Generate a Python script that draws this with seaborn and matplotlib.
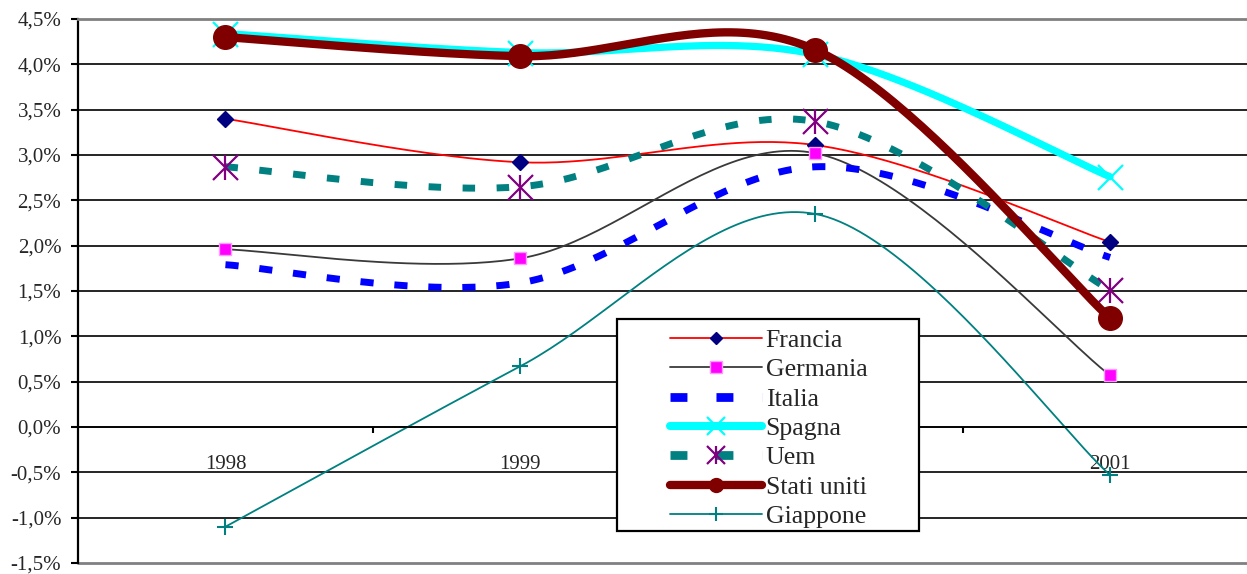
import numpy as np
import matplotlib
matplotlib.use("Agg")
import matplotlib.pyplot as plt
import seaborn as sns
from matplotlib.lines import Line2D
from matplotlib.patches import Rectangle
from matplotlib.ticker import FuncFormatter

# ---------------- data ----------------
years = ["1998", "1999", "2000", "2001"]
francia = [3.40, 2.92, 3.11, 2.04]
germania = [1.96, 1.86, 3.02, 0.57]
italia = [1.79, 1.59, 2.87, 1.87]
spagna = [4.34, 4.13, 4.11, 2.76]
uem = [2.87, 2.65, 3.37, 1.51]
stati_uniti = [4.30, 4.09, 4.16, 1.20]
giappone = [-1.10, 0.67, 2.35, -0.53]
series_names = ["Francia", "Germania", "Italia", "Spagna", "Uem", "Stati uniti", "Giappone"]
y_ticks = [-1.5, -1.0, -0.5, 0.0, 0.5, 1.0, 1.5, 2.0, 2.5, 3.0, 3.5, 4.0, 4.5]

sns.set_style("white")
plt.rcParams["font.family"] = ["Liberation Serif", "DejaVu Serif"]
plt.rcParams["lines.scale_dashes"] = False

W, H = 1247, 574
fig = plt.figure(figsize=(W / 100, H / 100), dpi=100)
ax = fig.add_axes([78 / W, (H - 563) / H, (W - 78) / W, 544 / H])

xpos = np.arange(len(years), dtype=float)


def excel_smooth(xs, ys, n=50):
    """Excel-style smoothed line (cubic Bezier, tension 1/6) through the points."""
    P = np.column_stack([xs, ys]).astype(float)
    k = len(P)
    t = np.linspace(0, 1, n)[:, None]
    out = []
    for i in range(k - 1):
        p0 = P[i - 1] if i > 0 else P[i]
        p1, p2 = P[i], P[i + 1]
        p3 = P[i + 2] if i + 2 < k else P[i + 1]
        c1 = p1 + (p2 - p0) / 6.0
        c2 = p2 - (p3 - p1) / 6.0
        seg = ((1 - t) ** 3) * p1 + 3 * ((1 - t) ** 2) * t * c1 + 3 * (1 - t) * t ** 2 * c2 + t ** 3 * p2
        if i > 0:
            seg = seg[1:]
        out.append(seg)
    return np.vstack(out)


def draw_line(vals, color, lw, dashes=None, capstyle="round"):
    sm = excel_smooth(xpos, vals)
    sns.lineplot(x=sm[:, 0], y=sm[:, 1], sort=False, estimator=None, ax=ax,
                 color=color, linewidth=lw, legend=False)
    ln = ax.lines[-1]
    if dashes is not None:
        ln.set_dashes(dashes)
        ln.set_dash_capstyle("butt")
    else:
        ln.set_solid_capstyle(capstyle)
        ln.set_solid_joinstyle("round")


def draw_markers(vals, marker, ms, mfc, mec, mew):
    sns.lineplot(x=xpos, y=vals, sort=False, estimator=None, ax=ax, linestyle="",
                 marker=marker, markersize=ms, markerfacecolor=mfc,
                 markeredgecolor=mec, markeredgewidth=mew, legend=False)


# Francia
draw_line(francia, "#FF0000", 1.3)
draw_markers(francia, "D", 8, "#000080", "#000080", 1)
# Germania
draw_line(germania, "#3A3A3A", 1.3)
draw_markers(germania, "s", 9, "#FF00FF", "#FF99FF", 1)
# Italia
draw_line(italia, "#0000FF", 5.0, dashes=(9.5, 15.0))
# Spagna
draw_line(spagna, "#00FFFF", 5.2)
draw_markers(spagna, "x", 18, "#00FFFF", "#00FFFF", 1.6)
# Uem
draw_line(uem, "#008080", 5.0, dashes=(9.0, 15.5))
draw_markers(uem, "x", 18, "#800080", "#800080", 1.6)
draw_markers(uem, "|", 18, "#800080", "#800080", 1.6)
# Stati uniti
draw_line(stati_uniti, "#800000", 6.0)
draw_markers(stati_uniti, "o", 17, "#800000", "#800000", 1)
# Giappone
draw_line(giappone, "#008080", 1.3)
draw_markers(giappone, "+", 11, "#008080", "#008080", 1.5)

# ---------------- axes ----------------
ax.set_ylim(-1.5, 4.5)
ax.set_xlim(-0.5, 3 + (W - 1110) / 295.0)

for v in y_ticks[1:-1]:
    ax.axhline(v, color="black", lw=1.2, zorder=0.8)
ax.axhline(-1.5, color="#808080", lw=2.0, zorder=0.8, clip_on=False)

ax.set_yticks(y_ticks)
ax.yaxis.set_major_formatter(FuncFormatter(lambda v, p: f"{v:.1f}%".replace(".", ",")))
ax.tick_params(axis="y", direction="out", length=5, width=1.5, pad=7,
               labelsize=15, left=True, color="black")

ax.set_xticks(xpos)
ax.set_xticklabels(years)
ax.set_xticks([0.5, 1.5, 2.5], minor=True)
ax.tick_params(axis="x", which="major", length=0, pad=20, labelsize=15)
ax.tick_params(axis="x", which="minor", direction="out", length=4.5, width=1.5,
               bottom=True, color="black")
# the 2000 label sits behind the legend box in the original
ax.get_xticklabels()[2].set_visible(False)

ax.spines["bottom"].set_position(("data", 0))
ax.spines["bottom"].set_color("black")
ax.spines["bottom"].set_linewidth(1.2)
ax.spines["left"].set_color("black")
ax.spines["left"].set_linewidth(1.6)
ax.spines["top"].set_color("#808080")
ax.spines["top"].set_linewidth(2.0)
ax.spines["right"].set_visible(False)
ax.set_xlabel("")
ax.set_ylabel("")

# ---------------- legend ----------------
x0 = (617 - 78) / (W - 78)
x1 = (919 - 78) / (W - 78)
y0 = (563 - 531) / 544
y1 = (563 - 319) / 544
ax.add_patch(Rectangle((x0, y0), x1 - x0, y1 - y0, transform=ax.transAxes,
                       facecolor="white", edgecolor="black", lw=1.6, zorder=4.5))

leg_dash = (12.2, 20.9)
uem_line = Line2D([], [], color="#008080", lw=6.3, dashes=leg_dash, dash_capstyle="butt")
handles = [
    Line2D([], [], color="#FF0000", lw=1.3, marker="D", ms=6.5, mfc="#000080", mec="#000080"),
    Line2D([], [], color="#3A3A3A", lw=1.3, marker="s", ms=8, mfc="#FF00FF", mec="#FF99FF"),
    Line2D([], [], color="#0000FF", lw=6.3, dashes=leg_dash, dash_capstyle="butt"),
    Line2D([], [], color="#00FFFF", lw=5.8, marker="x", ms=13.5, mew=1.6, mec="#00FFFF",
           solid_capstyle="round"),
    (uem_line,
     Line2D([], [], ls="", marker="x", ms=13.5, mew=1.6, mec="#800080"),
     Line2D([], [], ls="", marker="|", ms=13.5, mew=1.6, mec="#800080")),
    Line2D([], [], color="#800000", lw=6.0, marker="o", ms=10, mfc="#800000", mec="#800000",
           solid_capstyle="round"),
    Line2D([], [], color="#008080", lw=1.3, marker="+", ms=10, mew=1.5, mec="#008080"),
]
leg = ax.legend(handles, series_names, loc="center left",
                bbox_to_anchor=((670 - 78) / (W - 78), (563 - 428.5) / 544),
                frameon=False, borderpad=0, borderaxespad=0,
                handlelength=3.57, handletextpad=0.15, labelspacing=0.25,
                fontsize=18.5, numpoints=1)
leg.set_zorder(5)

fig.savefig("out.png", dpi=100)
